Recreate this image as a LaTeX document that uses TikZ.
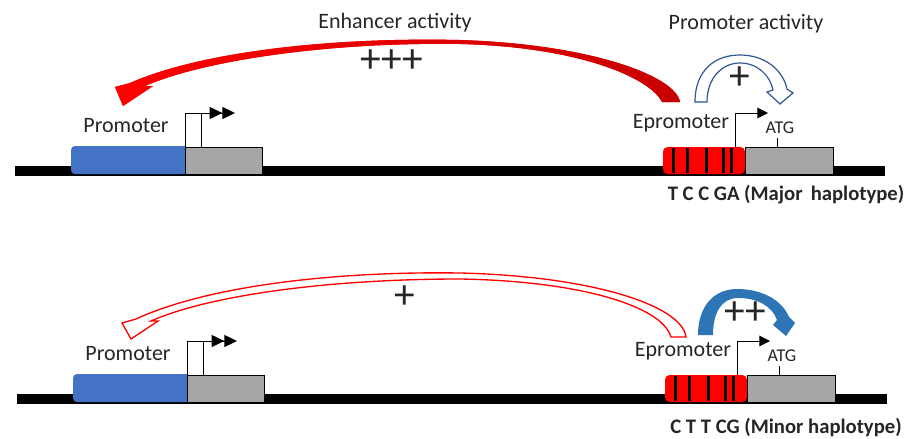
\documentclass[tikz,border=0pt]{standalone}
\usepackage{fontspec}
\setmainfont{Carlito}
\usetikzlibrary{arrows.meta}
\definecolor{promblue}{HTML}{4472C4}
\definecolor{boxgray}{HTML}{A6A6A6}
\definecolor{arcblue}{HTML}{2E75B6}
\definecolor{arcline}{HTML}{2F5597}
\definecolor{txtgray}{HTML}{262626}
\begin{document}
\begin{tikzpicture}[x=0.75pt,y=-0.75pt,
    lbl/.style={font=\fontsize{16.5}{18}\selectfont, text=txtgray, inner sep=0pt, anchor=base},
    small/.style={font=\fontsize{13.5}{15}\selectfont, text=txtgray, inner sep=0pt, anchor=base},
    hap/.style={font=\bfseries\fontsize{15.5}{17}\selectfont, text=txtgray, inner sep=0pt, anchor=base},
    plus/.style={font=\fontsize{31}{33}\selectfont, text=txtgray, inner sep=0pt},
    exon/.style={draw=black, line width=0.75pt, fill=boxgray},
    thin line/.style={line width=0.75pt}]
  \useasboundingbox (0,0) rectangle (911,439);

  % the two gene tracks
  \foreach \i/\dx/\dy in {1/0/0, 2/2/228} {
    \begin{scope}[shift={(\dx,\dy)}]
      \fill (15,166) rectangle (885,176);
      % promoter
      \fill[promblue, rounded corners=3pt] (71,146) rectangle (185,174);
      \fill[promblue] (170,146) rectangle (185,174);
      \draw[exon] (185,147) rectangle (262,174);
      \draw[thin line, fill=white] (185,113) rectangle (201,147);
      \draw[thin line, -{Triangle[length=9.5pt,width=9pt] Triangle[length=9.5pt,width=9pt]}] (201,113) -- (235,113);
      % epromoter
      \fill[red, rounded corners=3.5pt] (663,147) rectangle (745,174);
      \foreach \s in {673,687,706,723,731}
        \fill (\s-1.5,148) rectangle (\s+1.5,173);
      \draw[exon] (745,147) rectangle (833,174);
      \draw[thin line, -{Triangle[length=8pt,width=8pt]}] (735,147) -- (735,113) -- (768,113);
      \draw[thin line] (777,147) -- (777,138);
      \node[lbl] (prom\i) at (126,132) {Promoter};
      \node[lbl] (eprom\i) at (681,128) {Epromoter};
      \node[small] (atg\i) at (780,133) {ATG};
    \end{scope}
  }
  \node[hap] (major) at (786,200) {T C C GA (Major\, haplotype)};
  \node[hap] (minor) at (786,433) {C T T CG (Minor haplotype)};

  % top: strong enhancer, weak promoter
  \node[lbl] (enh) at (395,28) {Enhancer activity};
  \node[lbl] (pact) at (746,29) {Promoter activity};
  \fill[red, shading=axis, left color=red, middle color=red, right color=red!78!black]
    (680,102) .. controls (676,76) and (590,44) .. (460,40)
    .. controls (330,37) and (200,52) .. (130,83)
    -- (115,87) -- (123,106) -- (153,86) -- (145,86)
    .. controls (205,60) and (330,42) .. (460,44)
    .. controls (580,47) and (650,78) .. (662,102) -- cycle;
  \node[plus] (p3) at (392,61) {+++};
  \draw[draw=arcline, line width=0.9pt, fill=white]
    (695,102) .. controls (695,70) and (715,55) .. (740,55)
    .. controls (765,55) and (783,70) .. (787,89)
    -- (793,93) -- (780,104) -- (767,92) -- (773,90)
    .. controls (770,75) and (757,63) .. (740,63)
    .. controls (722,63) and (707,78) .. (707,102) -- cycle;
  \node[plus] (p1) at (740,78) {+};

  % bottom: weak enhancer, strong promoter
  \draw[draw=red, line width=1pt, fill=white]
    (686,337) .. controls (682,305) and (590,276) .. (460,273)
    .. controls (330,271) and (205,287) .. (136,319)
    -- (122,323) -- (131,339) -- (158,321) -- (151,321)
    .. controls (210,295) and (330,279) .. (460,279)
    .. controls (580,281) and (662,306) .. (671,337) -- cycle;
  \node[plus] (q1) at (405,297) {+};
  \fill[arcblue]
    (698,335) .. controls (698,305) and (715,289) .. (737,289)
    .. controls (762,289) and (782,300) .. (789,317)
    -- (795,323) -- (786,336) -- (773,325) -- (777,320)
    .. controls (772,306) and (757,298) .. (738,298)
    .. controls (722,298) and (713,312) .. (713,335) -- cycle;
  \node[plus] (q2) at (745,313) {++};
\end{tikzpicture}
\end{document}
